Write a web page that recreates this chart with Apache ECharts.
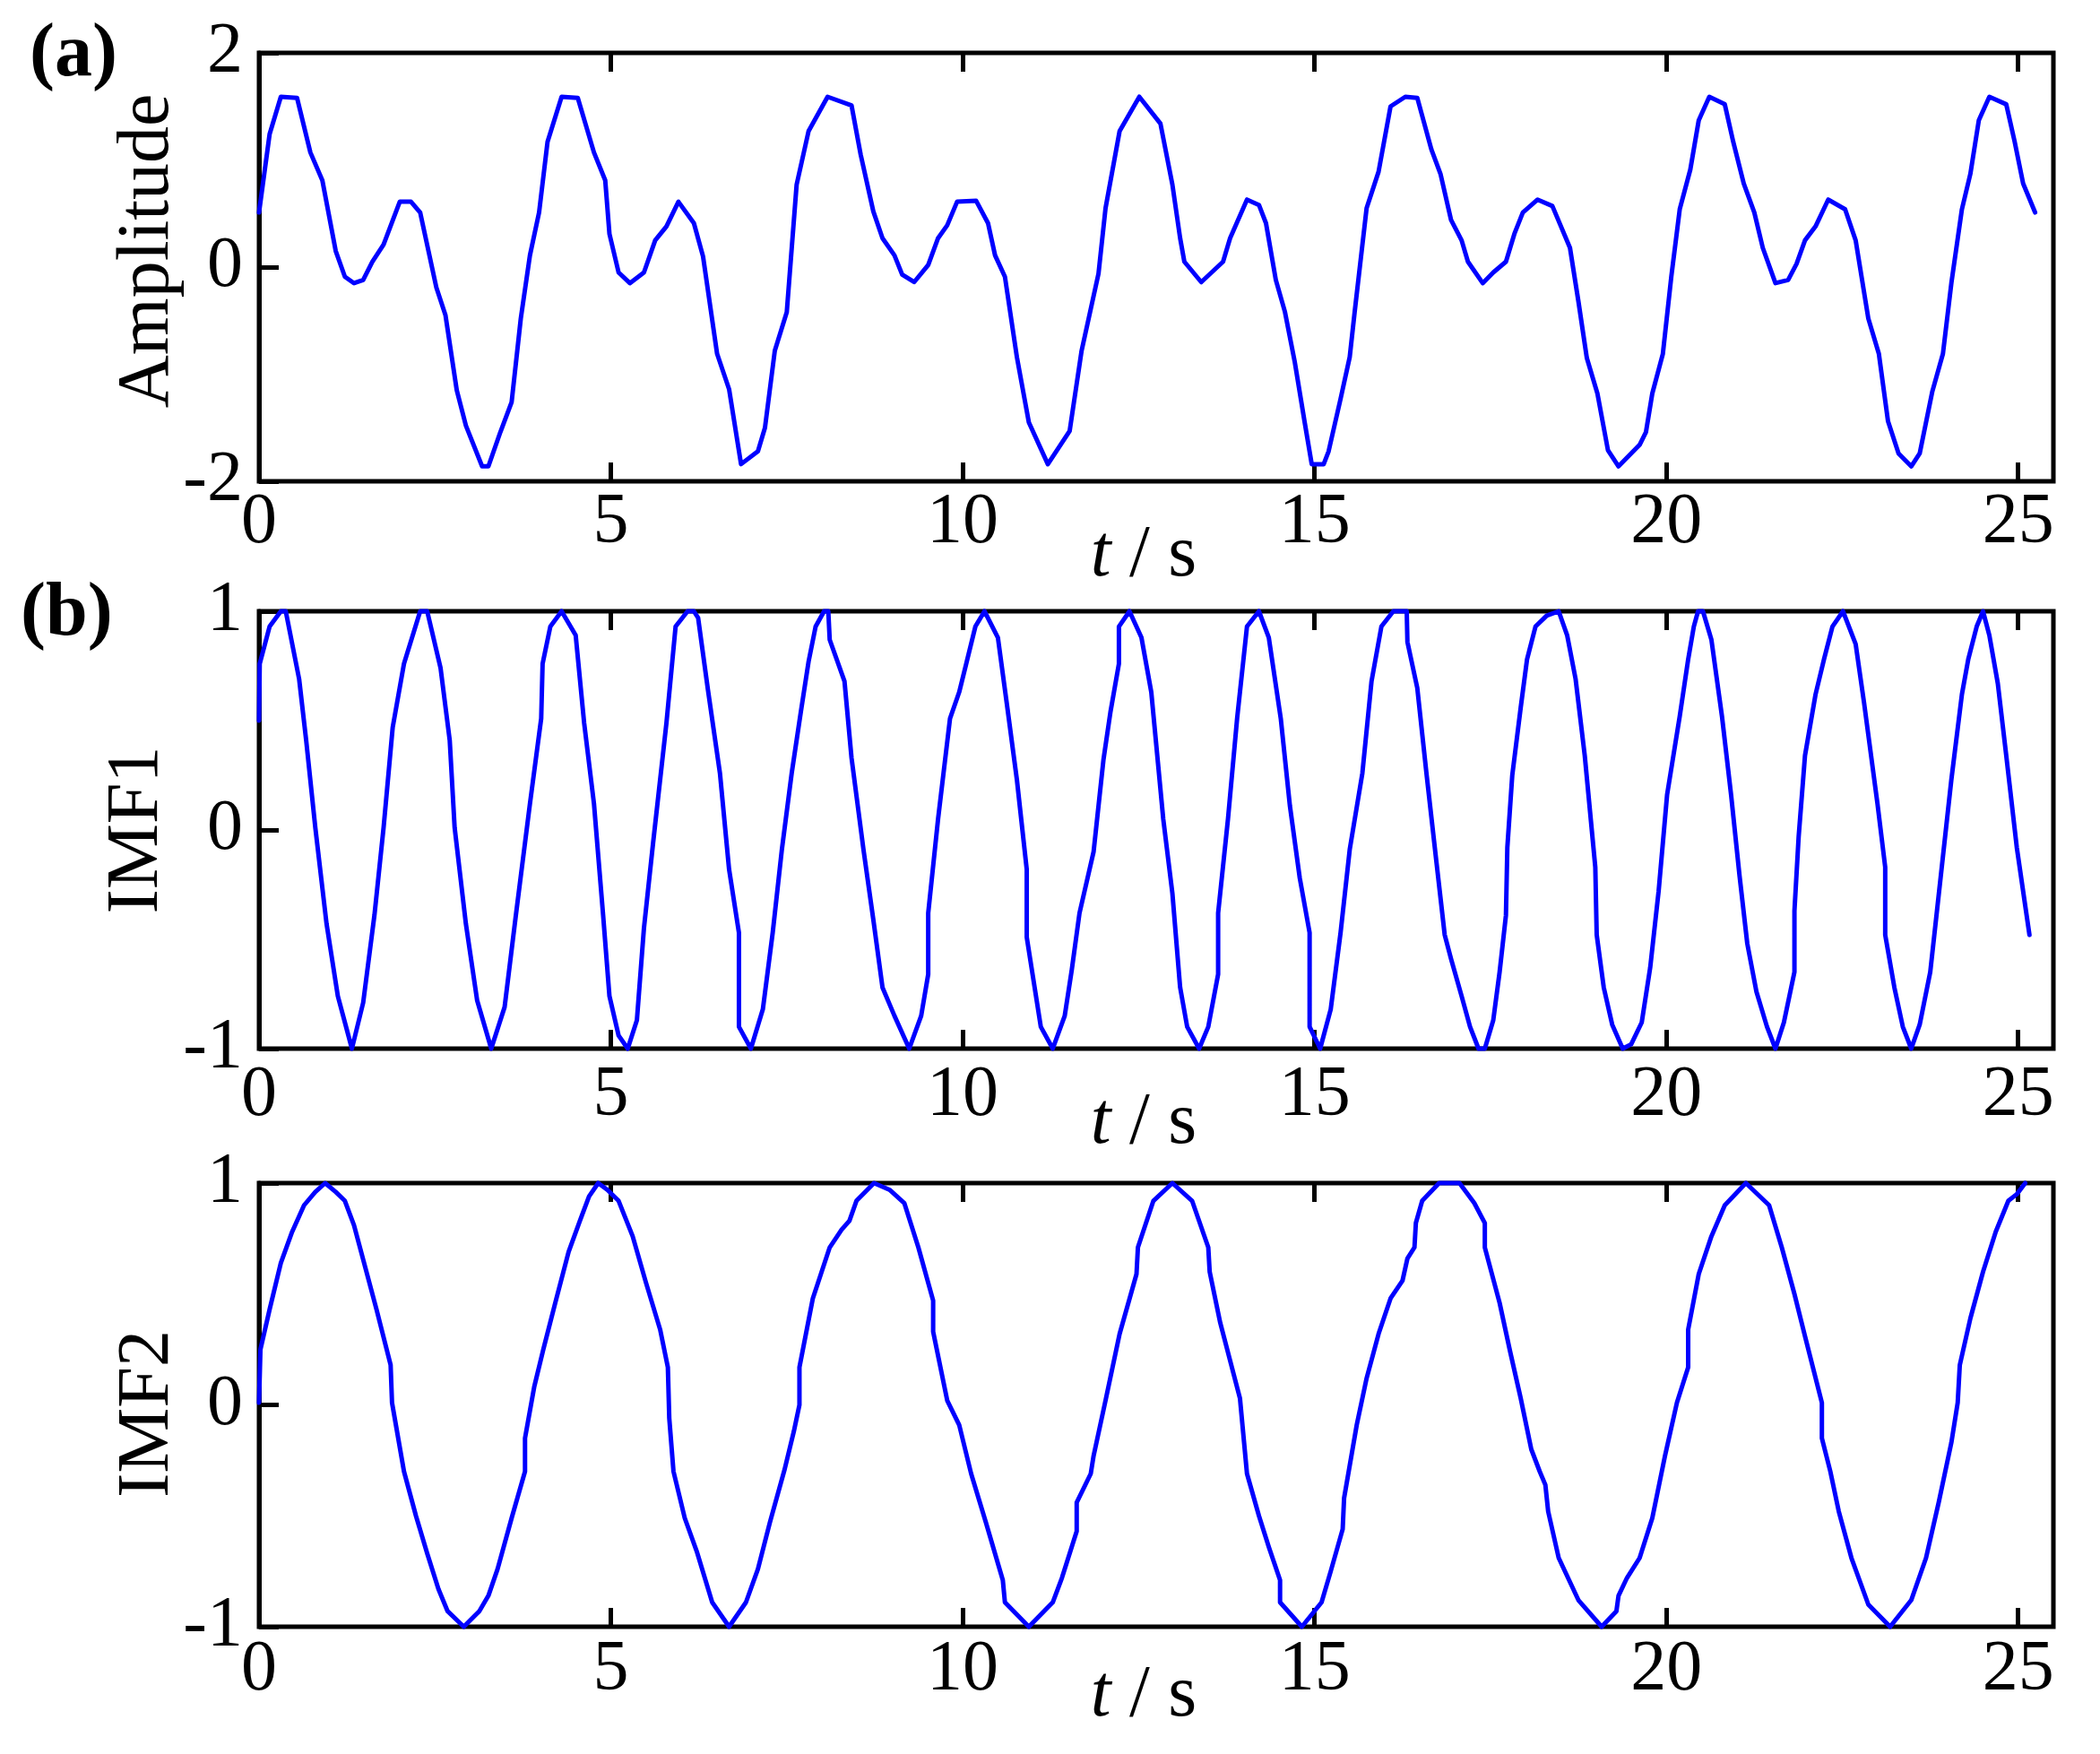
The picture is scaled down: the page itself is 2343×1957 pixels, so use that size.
<!DOCTYPE html>
<html><head><meta charset="utf-8">
<script src="https://cdn.jsdelivr.net/npm/echarts@6/dist/echarts.min.js"></script>
<style>html,body{margin:0;padding:0;background:#fff}#c{width:2343px;height:1957px}</style>
</head><body><div id="c"></div>
<script>
// ---- data ----
const xTicks = [0, 5, 10, 15, 20, 25];
const xMax = 25.5;
const ampTicks = [-2, 0, 2];
const imfTicks = [-1, 0, 1];

const ampT = [0,0.15,0.31,0.54,0.73,0.90,1.09,1.22,1.35,1.48,1.61,1.77,2.00,2.16,2.29,2.52,2.65,2.81,2.94,3.17,3.26,3.43,3.59,3.72,3.85,3.98,4.10,4.30,4.53,4.76,4.92,4.98,5.11,5.27,5.47,5.63,5.79,5.96,6.18,6.31,6.51,6.68,6.85,7.09,7.19,7.33,7.50,7.64,7.81,8.08,8.42,8.55,8.73,8.86,9.03,9.14,9.31,9.51,9.65,9.78,9.92,10.19,10.36,10.46,10.60,10.77,10.94,11.21,11.52,11.69,11.93,12.03,12.23,12.51,12.81,12.98,13.09,13.15,13.39,13.70,13.80,14.04,14.21,14.31,14.45,14.58,14.72,14.86,14.96,15.13,15.20,15.37,15.50,15.57,15.74,15.91,16.08,16.29,16.46,16.66,16.79,16.94,17.09,17.18,17.39,17.54,17.72,17.84,17.96,18.17,18.38,18.63,18.75,18.87,19.02,19.17,19.32,19.62,19.71,19.80,19.95,20.07,20.19,20.34,20.46,20.61,20.83,20.95,21.10,21.25,21.37,21.55,21.73,21.85,21.97,22.12,22.30,22.54,22.69,22.87,23.02,23.15,23.30,23.48,23.60,23.78,23.93,24.05,24.20,24.32,24.44,24.59,24.83,24.95,25.07,25.24];
const ampV = [0.51,1.24,1.59,1.58,1.07,0.81,0.15,-0.09,-0.15,-0.12,0.05,0.21,0.61,0.61,0.51,-0.19,-0.45,-1.15,-1.48,-1.86,-1.86,-1.54,-1.26,-0.48,0.11,0.51,1.17,1.59,1.58,1.07,0.81,0.31,-0.05,-0.15,-0.05,0.25,0.38,0.61,0.41,0.10,-0.81,-1.14,-1.84,-1.72,-1.50,-0.78,-0.42,0.77,1.27,1.59,1.51,1.05,0.52,0.27,0.11,-0.07,-0.14,0.02,0.27,0.39,0.61,0.62,0.41,0.11,-0.09,-0.84,-1.45,-1.84,-1.53,-0.78,-0.06,0.55,1.27,1.59,1.34,0.77,0.27,0.05,-0.14,0.05,0.27,0.63,0.58,0.41,-0.12,-0.42,-0.89,-1.45,-1.84,-1.84,-1.72,-1.23,-0.84,-0.42,0.55,0.89,1.50,1.59,1.58,1.10,0.87,0.44,0.25,0.05,-0.15,-0.05,0.05,0.31,0.51,0.63,0.57,0.18,-0.32,-0.85,-1.18,-1.71,-1.86,-1.66,-1.54,-1.18,-0.81,-0.09,0.54,0.91,1.37,1.59,1.52,1.17,0.78,0.51,0.18,-0.15,-0.12,0.03,0.25,0.38,0.63,0.54,0.25,-0.48,-0.81,-1.44,-1.74,-1.86,-1.74,-1.16,-0.81,-0.15,0.54,0.87,1.37,1.59,1.52,1.17,0.78,0.51];

const imf1T = [0,0.01,0.15,0.31,0.38,0.57,0.67,0.80,0.96,1.12,1.32,1.48,1.64,1.77,1.90,2.06,2.29,2.39,2.58,2.71,2.78,2.94,3.10,3.30,3.49,3.65,3.85,4.01,4.03,4.14,4.30,4.50,4.62,4.76,4.89,4.98,5.11,5.24,5.37,5.47,5.60,5.79,5.92,6.09,6.18,6.24,6.38,6.55,6.68,6.82,6.82,6.99,7.16,7.30,7.43,7.57,7.70,7.81,7.91,8.03,8.09,8.11,8.32,8.42,8.59,8.73,8.86,9.03,9.24,9.41,9.51,9.51,9.65,9.82,9.95,10.05,10.18,10.31,10.50,10.63,10.77,10.91,10.91,11.11,11.28,11.45,11.55,11.66,11.86,12.00,12.10,12.22,12.22,12.37,12.54,12.68,12.85,12.98,13.09,13.19,13.36,13.49,13.63,13.63,13.77,13.90,14.04,14.21,14.35,14.52,14.65,14.79,14.93,14.93,15.08,15.23,15.37,15.50,15.68,15.81,15.95,16.12,16.31,16.32,16.46,16.59,16.73,16.85,16.94,17.09,17.21,17.33,17.42,17.54,17.63,17.72,17.74,17.81,17.93,18.02,18.14,18.30,18.47,18.59,18.71,18.84,18.99,19.01,19.11,19.23,19.38,19.50,19.65,19.77,19.89,20.01,20.19,20.31,20.39,20.45,20.52,20.64,20.79,20.92,21.04,21.15,21.28,21.43,21.55,21.67,21.82,21.82,21.88,21.97,22.12,22.24,22.36,22.51,22.69,22.81,23.00,23.11,23.11,23.24,23.36,23.48,23.60,23.75,23.90,24.05,24.20,24.29,24.41,24.50,24.59,24.71,24.83,24.98,25.16];
const imf1V = [0.50,0.76,0.93,1.00,1.00,0.69,0.41,0.01,-0.43,-0.76,-1.00,-0.79,-0.39,0.01,0.47,0.76,1.00,1.00,0.74,0.41,0.01,-0.43,-0.78,-1.00,-0.81,-0.39,0.12,0.51,0.76,0.93,1.00,0.89,0.49,0.12,-0.39,-0.76,-0.94,-1.00,-0.87,-0.45,-0.06,0.49,0.93,1.00,1.00,0.97,0.64,0.26,-0.18,-0.47,-0.90,-1.00,-0.82,-0.47,-0.09,0.26,0.54,0.77,0.93,1.00,1.00,0.87,0.68,0.33,-0.09,-0.41,-0.72,-0.85,-1.00,-0.85,-0.66,-0.38,0.05,0.51,0.63,0.76,0.93,1.00,0.88,0.57,0.23,-0.18,-0.49,-0.90,-1.00,-0.85,-0.64,-0.38,-0.10,0.32,0.54,0.76,0.93,1.00,0.88,0.63,0.05,-0.29,-0.72,-0.90,-1.00,-0.90,-0.66,-0.38,0.05,0.51,0.93,1.00,0.88,0.51,0.11,-0.22,-0.47,-0.90,-1.00,-0.82,-0.47,-0.09,0.26,0.68,0.93,1.00,1.00,0.86,0.65,0.26,-0.14,-0.48,-0.59,-0.76,-0.90,-1.00,-1.00,-0.87,-0.65,-0.39,-0.08,0.25,0.56,0.78,0.93,0.98,1.00,0.89,0.69,0.34,-0.17,-0.48,-0.72,-0.89,-1.00,-0.98,-0.88,-0.63,-0.28,0.16,0.52,0.78,0.93,1.00,1.00,0.87,0.52,0.16,-0.21,-0.52,-0.74,-0.90,-1.00,-0.88,-0.65,-0.37,-0.03,0.34,0.62,0.78,0.93,1.00,0.85,0.58,0.12,-0.17,-0.48,-0.72,-0.90,-1.00,-0.89,-0.65,-0.21,0.23,0.62,0.78,0.93,1.00,0.89,0.67,0.34,-0.08,-0.48];

const imf2T = [0,0.02,0.15,0.31,0.47,0.64,0.80,0.94,1.09,1.22,1.35,1.51,1.67,1.87,1.89,2.06,2.23,2.39,2.55,2.68,2.91,3.13,3.26,3.39,3.59,3.78,3.78,3.91,4.04,4.21,4.40,4.56,4.69,4.82,4.95,5.11,5.31,5.50,5.70,5.81,5.83,5.89,6.05,6.22,6.44,6.68,6.92,7.09,7.26,7.47,7.60,7.68,7.68,7.87,8.11,8.28,8.39,8.49,8.74,8.96,9.17,9.37,9.58,9.58,9.78,9.95,10.12,10.33,10.57,10.60,10.94,11.28,11.41,11.62,11.62,11.82,11.86,12.03,12.23,12.47,12.49,12.71,12.98,13.26,13.49,13.51,13.66,13.94,14.04,14.21,14.35,14.51,14.51,14.82,15.10,15.23,15.40,15.42,15.60,15.74,15.91,16.08,16.25,16.32,16.42,16.44,16.53,16.77,17.06,17.27,17.42,17.42,17.63,17.78,17.93,18.08,18.20,18.28,18.32,18.47,18.75,19.08,19.29,19.32,19.44,19.62,19.80,19.98,20.15,20.31,20.31,20.46,20.64,20.83,21.13,21.46,21.64,21.82,21.97,22.21,22.21,22.33,22.45,22.63,22.87,23.18,23.48,23.69,23.87,24.05,24.14,24.17,24.32,24.50,24.68,24.86,24.98,25.10];
const imf2V = [0.01,0.25,0.43,0.64,0.78,0.90,0.96,1.00,0.96,0.92,0.81,0.62,0.43,0.18,0.01,-0.30,-0.50,-0.67,-0.83,-0.93,-1.00,-0.93,-0.86,-0.74,-0.51,-0.30,-0.15,0.08,0.25,0.46,0.69,0.83,0.94,1.00,0.97,0.92,0.76,0.55,0.34,0.17,-0.06,-0.30,-0.51,-0.66,-0.89,-1.00,-0.89,-0.74,-0.53,-0.29,-0.12,0.00,0.17,0.48,0.71,0.79,0.83,0.92,1.00,0.97,0.91,0.71,0.47,0.33,0.02,-0.09,-0.31,-0.53,-0.79,-0.89,-1.00,-0.89,-0.78,-0.57,-0.44,-0.31,-0.23,0.02,0.32,0.59,0.71,0.92,1.00,0.92,0.71,0.60,0.37,0.03,-0.31,-0.50,-0.64,-0.79,-0.89,-1.00,-0.89,-0.75,-0.56,-0.42,-0.09,0.12,0.32,0.48,0.56,0.66,0.71,0.82,0.92,1.00,1.00,0.91,0.82,0.71,0.46,0.24,0.03,-0.20,-0.30,-0.36,-0.48,-0.69,-0.88,-1.00,-0.93,-0.86,-0.78,-0.69,-0.51,-0.23,0.01,0.17,0.34,0.59,0.76,0.90,1.00,0.90,0.71,0.50,0.31,0.01,-0.15,-0.30,-0.48,-0.69,-0.90,-1.00,-0.88,-0.69,-0.44,-0.17,0.01,0.18,0.39,0.60,0.78,0.92,0.95,1.00];

// ---- chart ----
const FONT = 'Liberation Serif';
const pair = (T, V) => T.map((t, i) => [t, V[i]]);
const panels = [
  {top: 59, height: 478, min: ampTicks[0], max: ampTicks[2], step: ampTicks[1] - ampTicks[0], name: 'Amplitude', nameGap: 83, namePad: [0, 0, 0, 36], labMargin: 7, tGap: 42, data: pair(ampT, ampV)},
  {top: 682, height: 488, min: imfTicks[0], max: imfTicks[2], step: imfTicks[1] - imfTicks[0], name: 'IMF1', nameGap: 95, namePad: [0, 0, 0, 0], labMargin: 13, tGap: 42, data: pair(imf1T, imf1V)},
  {top: 1320, height: 495, min: imfTicks[0], max: imfTicks[2], step: imfTicks[1] - imfTicks[0], name: 'IMF2', nameGap: 83, namePad: [0, 20, 0, 0], labMargin: 9, tGap: 36, data: pair(imf2T, imf2V)}
];
const xTick = () => ({show: true, inside: true, length: 21, customValues: xTicks, lineStyle: {color: '#000', width: 5}});
const yTick = () => ({show: true, inside: true, length: 22, lineStyle: {color: '#000', width: 5}});
const labStyle = () => ({fontFamily: FONT, fontSize: 80, color: '#000'});

const grid = [], xAxis = [], yAxis = [], series = [];
panels.forEach((p, i) => {
  grid.push({left: 289, width: 2002, top: p.top, height: p.height, show: true, borderColor: '#000', borderWidth: 5, backgroundColor: 'rgba(0,0,0,0)'});
  xAxis.push({
    gridIndex: i, type: 'value', min: 0, max: xMax, position: 'bottom',
    axisLine: {show: false, onZero: false}, splitLine: {show: false},
    axisTick: xTick(),
    axisLabel: Object.assign({customValues: xTicks, margin: p.labMargin}, labStyle()),
    name: '{i|t} / s', nameLocation: 'middle', nameGap: p.tGap, nameMoveOverlap: false,
    nameTextStyle: {fontFamily: FONT, fontSize: 82, color: '#000', padding: [0, 28, 0, 0],
      rich: {i: {fontFamily: FONT, fontSize: 82, fontStyle: 'italic', color: '#000'}}}
  });
  xAxis.push({
    gridIndex: i, type: 'value', min: 0, max: xMax, position: 'top',
    axisLine: {show: false, onZero: false}, splitLine: {show: false},
    axisTick: xTick(),
    axisLabel: {show: false}
  });
  yAxis.push({
    gridIndex: i, type: 'value', min: p.min, max: p.max, interval: p.step,
    axisLine: {show: true, onZero: false, lineStyle: {color: '#000', width: 5}}, splitLine: {show: false},
    axisTick: yTick(),
    axisLabel: Object.assign({margin: 18}, labStyle()),
    name: p.name, nameLocation: 'middle', nameGap: p.nameGap, nameMoveOverlap: false,
    nameTextStyle: {fontFamily: FONT, fontSize: 82, color: '#000', padding: p.namePad}
  });
  series.push({
    type: 'line', xAxisIndex: 2 * i, yAxisIndex: i, data: p.data,
    showSymbol: false, symbol: 'none', clip: false, z: 5,
    lineStyle: {color: '#0000ff', width: 5, join: 'round', cap: 'round'}
  });
});

const chart = echarts.init(document.getElementById('c'), null, {renderer: 'canvas'});
chart.setOption({
  animation: false,
  backgroundColor: '#ffffff',
  grid, xAxis, yAxis, series,
  graphic: [
    {type: 'text', left: 33, top: 20, style: {text: '(a)', font: 'bold 84px "Liberation Serif"', fill: '#000'}},
    {type: 'text', left: 23, top: 644, style: {text: '(b)', font: 'bold 84px "Liberation Serif"', fill: '#000'}}
  ]
});
</script>
</body></html>
